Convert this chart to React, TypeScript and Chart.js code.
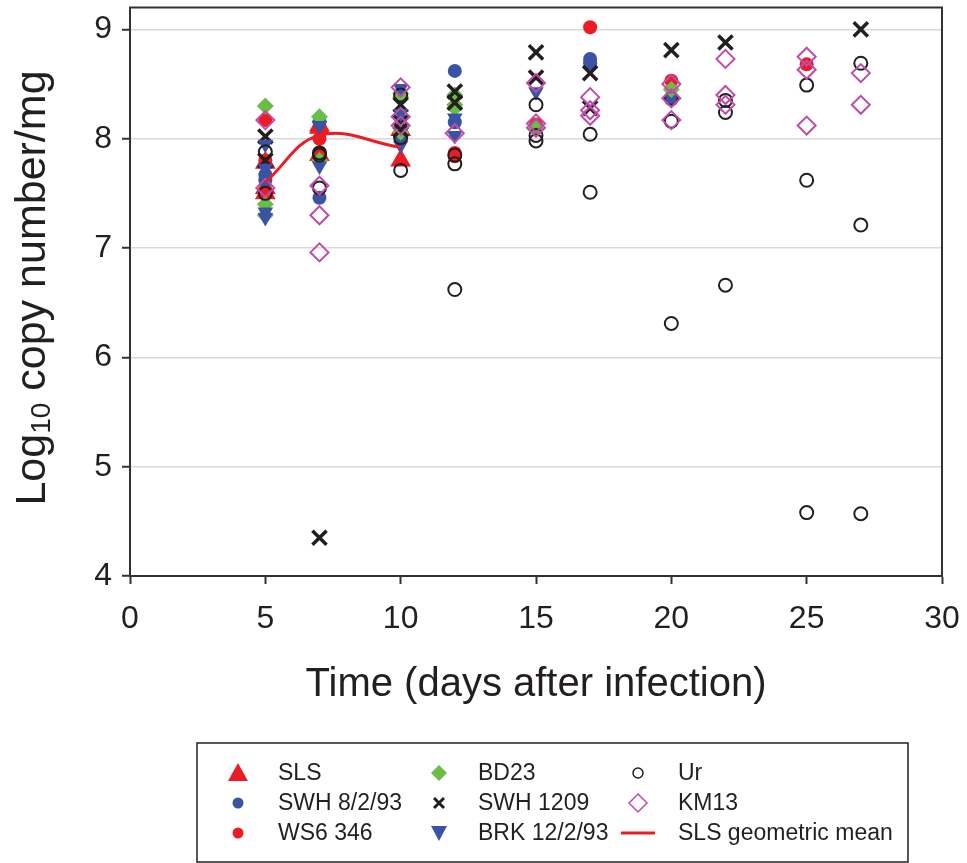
import React, { useEffect, useRef } from "react";
import { Chart, registerables } from "chart.js";

Chart.register(...registerables);

// Days post infection and log10 copy number per mg, one array per strain
const SLS: [number, number][] = [
  [5, 7.78], [5, 7.55], [5, 7.5],
  [7, 8.12], [7, 8.1], [7, 7.85],
  [10, 8.08], [10, 7.8],
];
const SWH_8_2_93: [number, number][] = [
  [5, 7.67], [5, 7.62],
  [7, 8.15], [7, 7.46],
  [10, 8.0],
  [12, 8.62], [12, 8.15],
  [17, 8.73], [17, 8.69],
  [20, 8.36],
];
const WS6_346: [number, number][] = [
  [5, 8.17], [5, 7.8],
  [7, 8.0], [7, 7.87], [7, 7.83],
  [12, 7.87], [12, 7.84],
  [15, 8.13],
  [17, 9.02],
  [20, 8.53],
  [25, 8.68],
];
const BD23: [number, number][] = [
  [5, 8.3], [5, 7.4], [5, 7.3],
  [7, 8.2], [7, 7.8],
  [10, 8.41], [10, 8.38], [10, 8.06],
  [12, 8.4], [12, 8.31], [12, 8.28],
  [15, 8.09],
  [20, 8.45],
];
const SWH_1209: [number, number][] = [
  [5, 8.02], [5, 7.8],
  [7, 4.35],
  [10, 8.31], [10, 8.15], [10, 8.08],
  [12, 8.43], [12, 8.33],
  [15, 8.79], [15, 8.56],
  [17, 8.6], [17, 8.28],
  [20, 8.81],
  [22, 8.88],
  [27, 9.0],
];
const BRK_12_2_93: [number, number][] = [
  [5, 7.95], [5, 7.73], [5, 7.33], [5, 7.28],
  [7, 8.12], [7, 7.75],
  [10, 8.46], [10, 8.23], [10, 7.94],
  [12, 8.19], [12, 8.03],
  [15, 8.43],
];
const UR: [number, number][] = [
  [5, 7.88], [5, 7.5],
  [7, 7.87], [7, 7.85], [7, 7.55],
  [10, 8.4], [10, 8.01], [10, 7.71],
  [12, 7.85], [12, 7.77], [12, 6.62],
  [15, 8.31], [15, 8.03], [15, 7.98],
  [17, 8.04], [17, 7.51],
  [20, 8.37], [20, 8.16], [20, 6.31],
  [22, 8.35], [22, 8.24], [22, 6.66],
  [25, 8.49], [25, 7.62], [25, 4.58],
  [27, 8.69], [27, 7.21], [27, 4.57],
];
const KM13: [number, number][] = [
  [5, 8.17], [5, 7.55],
  [7, 7.57], [7, 7.3], [7, 6.96],
  [10, 8.47], [10, 8.2], [10, 8.12],
  [12, 8.05],
  [15, 8.51], [15, 8.14], [15, 8.1],
  [17, 8.38], [17, 8.26], [17, 8.21],
  [20, 8.5], [20, 8.37], [20, 8.17],
  [22, 8.73], [22, 8.4], [22, 8.31],
  [25, 8.75], [25, 8.63], [25, 8.12],
  [27, 8.6], [27, 8.31],
];
const SLS_MEAN_DAYS = [5, 7, 10];
const SLS_MEAN_LOG = [7.6, 8.03, 7.92];

const X_TICKS = [0, 5, 10, 15, 20, 25, 30];
const Y_TICKS = [4, 5, 6, 7, 8, 9];

const RED = "#ED1C24";
const BLUE = "#3A53A4";
const GREEN = "#6ABD45";
const BLACK = "#231F20";
const PINK = "#BF4DA8";
const FONT = "'Liberation Sans', Arial, sans-serif";

// canvas is drawn slightly above the page top so the plot frame sits near the edge
const SHIFT = 6;
const W = 967;
const H = 863;

type Marker = {
  label: string;
  kind: "triUp" | "triDown" | "dot" | "diamond" | "cross" | "ring" | "diamondOpen" | "line";
  color: string;
};

const LEGEND: Marker[][] = [
  [
    { label: "SLS", kind: "triUp", color: RED },
    { label: "SWH 8/2/93", kind: "dot", color: BLUE },
    { label: "WS6 346", kind: "dot", color: RED },
  ],
  [
    { label: "BD23", kind: "diamond", color: GREEN },
    { label: "SWH 1209", kind: "cross", color: BLACK },
    { label: "BRK 12/2/93", kind: "triDown", color: BLUE },
  ],
  [
    { label: "Ur", kind: "ring", color: BLACK },
    { label: "KM13", kind: "diamondOpen", color: PINK },
    { label: "SLS geometric mean", kind: "line", color: RED },
  ],
];

function toPoints(arr: [number, number][]) {
  return arr.map(([x, y]) => ({ x, y }));
}

function drawMarker(ctx: CanvasRenderingContext2D, m: Marker, x: number, y: number) {
  ctx.save();
  ctx.fillStyle = m.color;
  ctx.strokeStyle = m.color;
  ctx.beginPath();
  switch (m.kind) {
    case "triUp":
      ctx.moveTo(x, y - 10);
      ctx.lineTo(x + 10, y + 8);
      ctx.lineTo(x - 10, y + 8);
      ctx.closePath();
      ctx.fill();
      break;
    case "triDown":
      ctx.moveTo(x - 8, y - 7);
      ctx.lineTo(x + 8, y - 7);
      ctx.lineTo(x, y + 8);
      ctx.closePath();
      ctx.fill();
      break;
    case "dot":
      ctx.arc(x, y, 5.5, 0, Math.PI * 2);
      ctx.fill();
      break;
    case "diamond":
      ctx.moveTo(x, y - 8);
      ctx.lineTo(x + 8, y);
      ctx.lineTo(x, y + 8);
      ctx.lineTo(x - 8, y);
      ctx.closePath();
      ctx.fill();
      break;
    case "diamondOpen":
      ctx.lineWidth = 1.5;
      ctx.moveTo(x, y - 9);
      ctx.lineTo(x + 9, y);
      ctx.lineTo(x, y + 9);
      ctx.lineTo(x - 9, y);
      ctx.closePath();
      ctx.stroke();
      break;
    case "cross":
      ctx.lineWidth = 3;
      ctx.moveTo(x - 5, y - 5);
      ctx.lineTo(x + 5, y + 5);
      ctx.moveTo(x + 5, y - 5);
      ctx.lineTo(x - 5, y + 5);
      ctx.stroke();
      break;
    case "ring":
      ctx.lineWidth = 1.5;
      ctx.arc(x, y, 5, 0, Math.PI * 2);
      ctx.stroke();
      break;
    case "line":
      ctx.lineWidth = 3;
      ctx.moveTo(x - 17, y);
      ctx.lineTo(x + 17, y);
      ctx.stroke();
      break;
  }
  ctx.restore();
}

const decorations = {
  id: "decorations",
  afterDraw(chart: any) {
    const ctx: CanvasRenderingContext2D = chart.ctx;
    const { left, right, top, bottom } = chart.chartArea;
    ctx.save();

    // closed frame around the plot area
    ctx.strokeStyle = "#333333";
    ctx.lineWidth = 2;
    ctx.strokeRect(left, top, right - left, bottom - top);

    // x axis title
    ctx.fillStyle = BLACK;
    ctx.font = `40px ${FONT}`;
    ctx.textAlign = "center";
    ctx.textBaseline = "middle";
    ctx.fillText("Time (days after infection)", (left + right) / 2, 685 + SHIFT);

    // y axis title with subscript
    ctx.save();
    ctx.translate(45, 288 + SHIFT);
    ctx.rotate(-Math.PI / 2);
    ctx.textAlign = "left";
    ctx.textBaseline = "alphabetic";
    ctx.font = `43px ${FONT}`;
    const w1 = ctx.measureText("Log").width;
    const w3 = ctx.measureText(" copy number/mg").width;
    ctx.font = `28px ${FONT}`;
    const w2 = ctx.measureText("10").width;
    const start = -(w1 + w2 + w3) / 2;
    ctx.font = `43px ${FONT}`;
    ctx.fillText("Log", start, 0);
    ctx.font = `28px ${FONT}`;
    ctx.fillText("10", start + w1, 5);
    ctx.font = `43px ${FONT}`;
    ctx.fillText(" copy number/mg", start + w1 + w2, 0);
    ctx.restore();

    // legend box
    ctx.strokeStyle = BLACK;
    ctx.lineWidth = 1.5;
    ctx.strokeRect(197, 743 + SHIFT, 711, 119);
    const markerX = [238, 439, 638];
    const textX = [278, 478, 678];
    const rowY = [773, 803, 833].map((v) => v + SHIFT);
    ctx.font = `23px ${FONT}`;
    ctx.textAlign = "left";
    ctx.textBaseline = "middle";
    LEGEND.forEach((col, ci) => {
      col.forEach((m, ri) => {
        drawMarker(ctx, m, markerX[ci], rowY[ri]);
        ctx.fillStyle = BLACK;
        ctx.fillText(m.label, textX[ci], rowY[ri] + 1);
      });
    });
    ctx.restore();
  },
};

export default function App() {
  const canvasRef = useRef<HTMLCanvasElement | null>(null);

  useEffect(() => {
    if (!canvasRef.current) return;
    const chart = new Chart(canvasRef.current, {
      type: "scatter",
      data: {
        datasets: [
          {
            label: "SLS geometric mean",
            data: SLS_MEAN_DAYS.map((d, i) => ({ x: d, y: SLS_MEAN_LOG[i] })),
            showLine: true,
            borderColor: RED,
            borderWidth: 3,
            pointRadius: 0,
            tension: 0.4,
            order: 0,
          },
          {
            label: "KM13",
            data: toPoints(KM13),
            pointStyle: "rectRot",
            pointRadius: 9,
            backgroundColor: "rgba(0,0,0,0)",
            borderColor: PINK,
            borderWidth: 2,
            order: 1,
          },
          {
            label: "Ur",
            data: toPoints(UR),
            pointStyle: "circle",
            pointRadius: 6.5,
            backgroundColor: "rgba(0,0,0,0)",
            borderColor: BLACK,
            borderWidth: 2,
            order: 2,
          },
          {
            label: "BRK 12/2/93",
            data: toPoints(BRK_12_2_93),
            pointStyle: "triangle",
            rotation: 180,
            pointRadius: 9,
            backgroundColor: BLUE,
            borderColor: BLUE,
            borderWidth: 0,
            order: 3,
          },
          {
            label: "SWH 1209",
            data: toPoints(SWH_1209),
            pointStyle: "crossRot",
            pointRadius: 10,
            borderColor: BLACK,
            borderWidth: 3.5,
            order: 4,
          },
          {
            label: "BD23",
            data: toPoints(BD23),
            pointStyle: "rectRot",
            pointRadius: 8.5,
            backgroundColor: GREEN,
            borderColor: GREEN,
            borderWidth: 0,
            order: 5,
          },
          {
            label: "WS6 346",
            data: toPoints(WS6_346),
            pointStyle: "circle",
            pointRadius: 7,
            backgroundColor: RED,
            borderColor: RED,
            borderWidth: 0,
            order: 6,
          },
          {
            label: "SWH 8/2/93",
            data: toPoints(SWH_8_2_93),
            pointStyle: "circle",
            pointRadius: 7,
            backgroundColor: BLUE,
            borderColor: BLUE,
            borderWidth: 0,
            order: 7,
          },
          {
            label: "SLS",
            data: toPoints(SLS),
            pointStyle: "triangle",
            pointRadius: 12,
            backgroundColor: RED,
            borderColor: RED,
            borderWidth: 0,
            order: 8,
          },
        ] as any,
      },
      options: {
        animation: false,
        responsive: false,
        devicePixelRatio: 1,
        events: [],
        layout: { padding: { top: 7, right: 25, bottom: 0, left: 0 } },
        plugins: {
          legend: { display: false },
          tooltip: { enabled: false },
        },
        scales: {
          x: {
            type: "linear",
            min: 0,
            max: 30,
            afterFit: (s: any) => {
              s.height = 287;
              s.paddingLeft = 0;
              s.paddingRight = 0;
            },
            afterBuildTicks: (s: any) => {
              s.ticks = X_TICKS.map((v) => ({ value: v }));
            },
            grid: {
              drawOnChartArea: false,
              drawTicks: true,
              tickLength: 8,
              tickColor: "#333333",
              tickWidth: 2,
            },
            border: { color: "#333333", width: 2 },
            ticks: {
              color: BLACK,
              font: { family: FONT, size: 32 },
              padding: 16,
              maxRotation: 0,
            },
          },
          y: {
            type: "linear",
            min: 4,
            max: 9.2,
            afterFit: (s: any) => {
              s.width = 130;
              s.paddingTop = 0;
              s.paddingBottom = 0;
            },
            afterBuildTicks: (s: any) => {
              s.ticks = Y_TICKS.map((v) => ({ value: v }));
            },
            grid: {
              color: "#D9D9D9",
              lineWidth: 1.5,
              drawTicks: true,
              tickLength: 8,
              tickColor: "#333333",
              tickWidth: 2,
            },
            border: { color: "#333333", width: 2 },
            ticks: {
              color: BLACK,
              font: { family: FONT, size: 32 },
              padding: 10,
            },
          },
        },
      } as any,
      plugins: [decorations],
    });
    return () => chart.destroy();
  }, []);

  return (
    <div
      style={{
        position: "absolute",
        left: 0,
        top: 0,
        width: W,
        height: H,
        overflow: "hidden",
        background: "#ffffff",
      }}
    >
      <canvas
        ref={canvasRef}
        width={W}
        height={H + SHIFT}
        style={{ position: "absolute", left: 0, top: -SHIFT }}
      />
    </div>
  );
}
